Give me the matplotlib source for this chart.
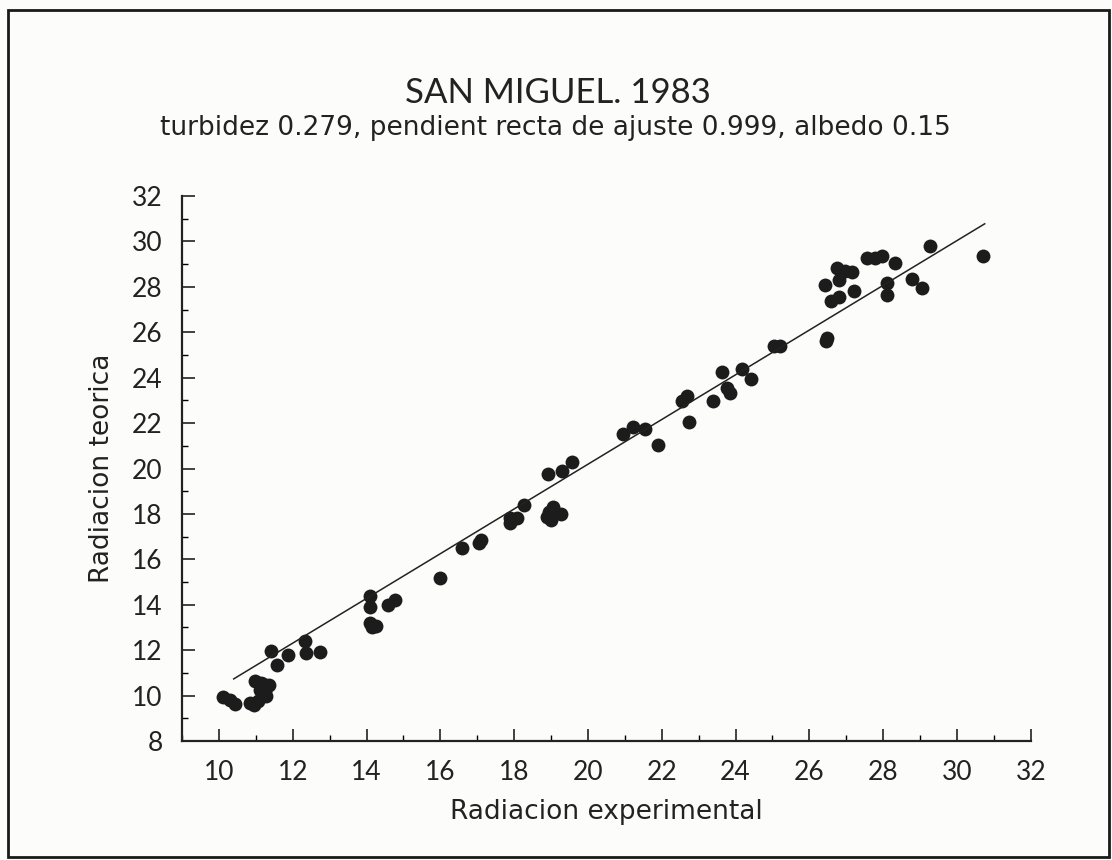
import numpy as np
import matplotlib
matplotlib.use("Agg")
import matplotlib.pyplot as plt
from matplotlib.patches import Rectangle

# radiacion experimental / teorica
rad_exp = [10.11, 10.3, 10.43, 10.83, 10.95, 10.97, 11.05, 11.1, 11.15, 11.2, 11.25, 11.27, 11.37,
           11.41, 11.57, 11.87, 12.32, 12.36, 12.73,
           14.1, 14.1, 14.1, 14.15, 14.26, 14.58, 14.77,
           15.99, 16.59, 17.05, 17.1, 17.88, 17.9, 18.07, 18.27, 18.93, 19.29, 19.56,
           18.88, 18.95, 19.0, 19.06, 19.27,
           20.96, 21.23, 21.55, 21.91, 22.54, 22.68, 22.75, 23.4, 23.63, 23.76, 23.85,
           24.17, 24.42, 25.03, 25.21,
           26.48, 26.45, 26.41, 26.59, 26.79, 26.75, 26.79, 26.97, 27.15, 27.2, 27.56,
           27.79, 27.97, 28.33, 28.1, 28.1, 28.78, 29.05, 29.28, 30.7]
rad_teo = [9.93, 9.8, 9.62, 9.67, 9.6, 10.63, 9.75, 10.25, 10.55, 10.5, 10.2, 9.97, 10.47,
           11.95, 11.33, 11.77, 12.39, 11.86, 11.9,
           14.4, 13.9, 13.2, 13.0, 13.05, 13.97, 14.19,
           15.18, 16.5, 16.7, 16.86, 17.81, 17.6, 17.81, 18.4, 19.76, 19.9, 20.27,
           17.86, 18.1, 17.75, 18.3, 18.0,
           21.51, 21.81, 21.73, 21.03, 22.98, 23.2, 22.05, 22.98, 24.25, 23.56, 23.34,
           24.37, 23.93, 25.39, 25.39,
           25.76, 25.6, 28.1, 27.36, 27.55, 28.83, 28.32, 28.68, 28.64, 27.8, 29.27,
           29.27, 29.34, 29.07, 28.17, 27.66, 28.35, 27.95, 29.81, 29.37]

# recta de ajuste
pendiente = 0.985
ordenada = 0.49
recta_x = [10.4, 30.75]

plt.rcParams['font.family'] = ['Lato', 'DejaVu Sans']
tinta = '#222222'

fig = plt.figure(figsize=(11.12, 8.6), dpi=100)
fig.patch.set_facecolor('#fcfcfb')
ax = fig.add_axes([0.1637, 0.1384, 0.7633, 0.6336])
ax.set_facecolor('none')

ax.plot(rad_exp, rad_teo, 'o', color='#1c1c1c', markersize=10, markeredgewidth=0)
rx = np.array(recta_x)
ax.plot(rx, pendiente * rx + ordenada, color=tinta, lw=1.1)

ax.set_xlim(9, 32)
ax.set_ylim(8, 32)
ax.set_xticks(range(10, 33, 2))
ax.set_yticks(range(8, 33, 2))
ax.set_xticks(range(9, 33), minor=True)
ax.set_yticks(range(8, 33), minor=True)
ax.tick_params(which='major', direction='in', length=9, width=1.2, labelsize=19,
               pad=14, colors=tinta)
ax.tick_params(which='minor', direction='in', length=4, width=1)
ax.spines['top'].set_visible(False)
ax.spines['right'].set_visible(False)
for s in ('left', 'bottom'):
    ax.spines[s].set_linewidth(1.6)
    ax.spines[s].set_color(tinta)

ax.set_xlabel('Radiacion experimental', fontsize=19, labelpad=10, color=tinta,
              family='DejaVu Sans')
ax.set_ylabel('Radiacion teorica', fontsize=19, labelpad=12, color=tinta,
              family='DejaVu Sans')

fig.text(0.502, 0.892, 'SAN MIGUEL. 1983', ha='center', va='center', fontsize=25,
         color=tinta)
fig.text(0.499, 0.851, 'turbidez 0.279, pendient recta de ajuste 0.999, albedo 0.15',
         ha='center', va='center', fontsize=19, color=tinta, family='DejaVu Sans')

fig.patches.append(Rectangle((0.007, 0.003), 0.99, 0.985, transform=fig.transFigure,
                             fill=False, lw=2, edgecolor='#1a1a1a'))

fig.savefig('out.png', dpi=100, facecolor=fig.get_facecolor())
